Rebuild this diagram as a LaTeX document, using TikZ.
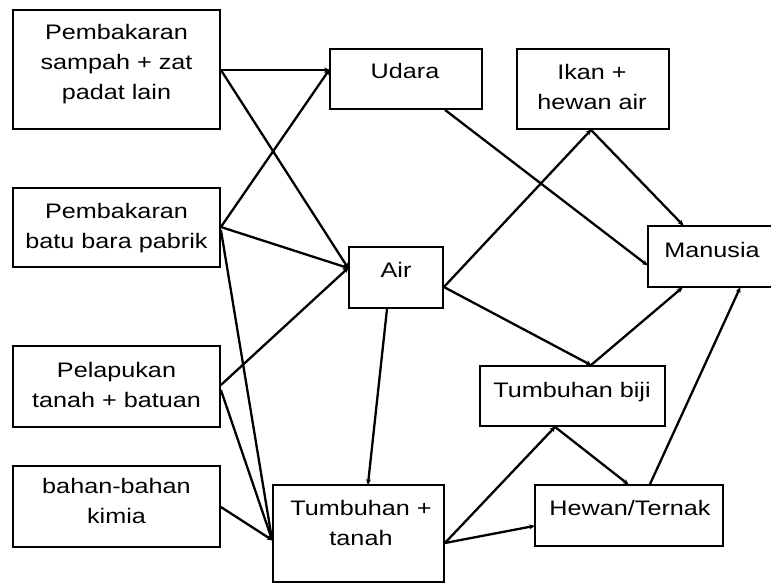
\documentclass[tikz,border=0pt]{standalone}
\usepackage{fontspec}
\setmainfont{Liberation Sans}[FakeStretch=1.2]
\usetikzlibrary{arrows.meta,calc}
\tikzset{
  box/.style={draw, line width=1.8pt, inner sep=0pt},
  txt/.style={anchor=north, inner sep=0pt, align=center, font=\fontsize{21}{30}\selectfont},
  conn/.style={line width=2.3pt, -{Stealth[length=6pt,width=5pt]}, shorten >=-1pt},
}
\newcommand{\bxnode}[5]{% name, x1, y1, x2, y2
  \node[box, minimum width={#4-#2}, minimum height={#5-#3}] (#1) at ({(#2+#4)/2},{(#3+#5)/2}) {};}
\begin{document}
\begin{tikzpicture}[x=1pt,y=-1pt]
\useasboundingbox (0,0) rectangle (771,584);
\bxnode{b1}{13}{10}{220}{129}
\bxnode{b2}{13}{188}{220}{267}
\bxnode{b3}{13}{346}{220}{427}
\bxnode{b4}{13}{466}{220}{547}
\bxnode{udara}{330}{49}{482}{109}
\bxnode{ikan}{517}{49}{669}{129}
\bxnode{air}{349}{247}{443}{308}
\bxnode{manusia}{648}{226}{776}{287}
\bxnode{tb}{480}{366}{665}{426}
\bxnode{hewan}{535}{485}{723}{546}
\bxnode{tt}{273}{485}{444}{582}
% texts (first baseline = top + 21)
\node[txt] (b1t) at (116.5,18) {\strut Pembakaran\\sampah + zat\\padat lain};
\node[txt] (b2t) at (116.5,197) {\strut Pembakaran\\batu bara pabrik};
\node[txt] (b3t) at (116.5,356) {\strut Pelapukan\\tanah + batuan};
\node[txt] (b4t) at (116.5,472) {\strut bahan-bahan\\kimia};
\node[txt] (udarat) at (405,57) {\strut Udara};
\node[txt] (ikant) at (592,58) {\strut Ikan +\\hewan air};
\node[txt] (airt) at (396,256) {\strut Air};
\node[txt] (manusiat) at (712,236) {\strut Manusia};
\node[txt] (tbt) at (572,376) {\strut Tumbuhan biji};
\node[txt] (hewant) at (630,494) {\strut Hewan/Ternak};
\node[txt] (ttt) at (361,494) {\strut Tumbuhan +\\tanah};
% connection points
\coordinate (b1E) at (b1.east |- 0,70);
\coordinate (b2Ea) at (b2.east |- 0,227);
\coordinate (b2Eb) at (b2.east |- 0,230);
\coordinate (b3Ea) at (b3.east |- 0,385);
\coordinate (b3Eb) at (b3.east |- 0,390);
\coordinate (b4E) at (b4.east |- 0,507);
\coordinate (udW) at (udara.west |- 0,70);
\coordinate (udS) at (udara.south -| 445,0);
\coordinate (airW) at (air.west |- 0,268);
\coordinate (airE) at (air.east |- 0,287);
\coordinate (airS) at (air.south -| 387,0);
\coordinate (ikS) at (ikan.south -| 591,0);
\coordinate (maW) at (manusia.west |- 0,265);
\coordinate (maN) at (manusia.north -| 683,0);
\coordinate (maSa) at (manusia.south -| 682,0);
\coordinate (maSb) at (manusia.south -| 740,0);
\coordinate (tbN) at (tb.north -| 591,0);
\coordinate (tbS) at (tb.south -| 555,0);
\coordinate (heN1) at (hewan.north -| 628,0);
\coordinate (heN2) at (hewan.north -| 650,0);
\coordinate (heW) at (hewan.west |- 0,526);
\coordinate (ttW) at (tt.west |- 0,540);
\coordinate (ttE) at (tt.east |- 0,543);
\coordinate (ttN) at (tt.north -| 368,0);
% connectors
\draw[conn] (b1E) -- (udW);
\draw[conn] (b1E) -- (airW);
\draw[conn] (b2Ea) -- (udW);
\draw[conn] (b2Ea) -- (airW);
\draw[conn] (b2Eb) -- (ttW);
\draw[conn] (b3Ea) -- (airW);
\draw[conn] (b3Eb) -- (ttW);
\draw[conn] (b4E) -- (ttW);
\draw[conn] (airS) -- (ttN);
\draw[conn] (airE) -- (ikS);
\draw[conn] (airE) -- (tbN);
\draw[conn] (udS) -- (maW);
\draw[conn] (ikS) -- (maN);
\draw[conn] (tbN) -- (maSa);
\draw[conn] (heN2) -- (maSb);
\draw[conn] (tbS) -- (heN1);
\draw[conn] (ttE) -- (tbS);
\draw[conn] (ttE) -- (heW);
\end{tikzpicture}
\end{document}
